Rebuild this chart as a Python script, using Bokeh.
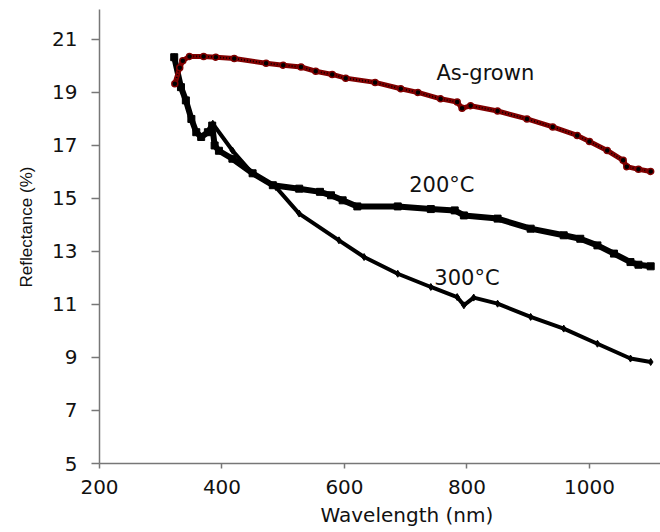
from bokeh.plotting import figure
from bokeh.models import Range1d, FixedTicker, Title, ColumnDataSource
from bokeh.embed import file_html
from bokeh.resources import INLINE
from bokeh.core.properties import value

# ---- data ----
asg_wl = [323, 331, 336, 347, 370, 390, 420, 472, 500, 529, 553, 580, 602, 650,
          692, 720, 757, 784, 792, 806, 850, 898, 940, 980, 1000, 1029, 1055,
          1061, 1080, 1100]
asg_r = [19.33, 19.93, 20.20, 20.36, 20.36, 20.33, 20.28, 20.10, 20.03, 19.96,
         19.80, 19.68, 19.54, 19.38, 19.14, 19.00, 18.76, 18.64, 18.40, 18.50,
         18.30, 18.00, 17.70, 17.38, 17.15, 16.81, 16.44, 16.20, 16.10, 16.02]

t200_wl = [322, 333, 341, 350, 358, 366, 377, 384, 388, 395, 417, 450, 483, 526,
           560, 578, 597, 621, 687, 741, 780, 795, 850, 904, 958, 985, 1013,
           1040, 1067, 1080, 1100]
t200_r = [20.33, 19.20, 18.70, 18.00, 17.50, 17.32, 17.50, 17.75, 17.00, 16.80,
          16.50, 15.95, 15.50, 15.37, 15.25, 15.12, 14.93, 14.70, 14.70, 14.60,
          14.55, 14.36, 14.24, 13.86, 13.61, 13.48, 13.23, 12.92, 12.60, 12.50,
          12.44]

t300_wl = [322, 333, 341, 350, 358, 366, 377, 385, 417, 450, 488, 526, 591, 632,
           687, 741, 784, 795, 811, 850, 904, 958, 1013, 1067, 1100]
t300_r = [20.33, 19.20, 18.70, 18.00, 17.50, 17.32, 17.50, 17.82, 16.81, 15.94,
          15.43, 14.43, 13.42, 12.79, 12.16, 11.66, 11.28, 10.97, 11.26, 11.03,
          10.53, 10.09, 9.52, 8.96, 8.83]

x_ticks = [200, 400, 600, 800, 1000]
y_ticks = [5, 7, 9, 11, 13, 15, 17, 19, 21]

series_labels = ["As-grown", "200°C", "300°C"]
label_x = [830, 759, 800]
label_y = [19.72, 15.49, 12.01]

x_title = "Wavelength (nm)"
y_title = "Reflectance (%)"

# ---- figure ----
p = figure(width=660, height=532,
           x_range=Range1d(200, 1116), y_range=Range1d(5, 22.13),
           output_backend="svg", toolbar_location=None,
           min_border_left=98, min_border_right=0,
           min_border_top=9, min_border_bottom=69)
p.outline_line_color = None
p.grid.visible = False
p.background_fill_color = "white"

axis_col = "#777777"
for ax in (p.xaxis[0], p.yaxis[0]):
    ax.axis_line_color = axis_col
    ax.axis_line_width = 1.5
    ax.major_tick_line_color = axis_col
    ax.major_tick_line_width = 1.5
    ax.major_tick_in = 0
    ax.minor_tick_line_color = None
    ax.major_label_text_font = "DejaVu Sans"
    ax.major_label_text_font_size = "20px"
    ax.major_label_text_color = "#111111"

p.xaxis.ticker = FixedTicker(ticks=x_ticks)
p.yaxis.ticker = FixedTicker(ticks=y_ticks)
p.xaxis.major_tick_out = 5
p.yaxis.major_tick_out = 8
p.xaxis.major_label_standoff = 11
p.yaxis.major_label_standoff = 14

xt = Title(text=x_title, align="left", offset=221,
           text_font="DejaVu Sans", text_font_size="20px",
           text_font_style="normal", text_color="#111111", standoff=9)
p.add_layout(xt, "below")
yt = Title(text=y_title, align="left", offset=176,
           text_font="Liberation Sans", text_font_size="17px",
           text_font_style="normal", text_color="#111111", standoff=28)
p.add_layout(yt, "left")

# ---- series ----
s300 = ColumnDataSource(dict(x=t300_wl, y=t300_r))
s200 = ColumnDataSource(dict(x=t200_wl, y=t200_r))
sasg = ColumnDataSource(dict(x=asg_wl, y=asg_r))

p.line("x", "y", source=s300, line_color="black", line_width=4)
p.scatter("x", "y", source=s300, marker="diamond", size=7, color="black")

p.line("x", "y", source=s200, line_color="black", line_width=6)
p.scatter("x", "y", source=s200, marker="square", size=7, color="black")

p.line("x", "y", source=sasg, line_color="#800000", line_width=5)
p.line("x", "y", source=sasg, line_color="black", line_width=1.6,
       line_dash="1 2")
p.scatter("x", "y", source=sasg, marker="circle", size=6,
          fill_color="black", line_color="#800000", line_width=1.5)

lsrc = ColumnDataSource(dict(x=label_x, y=label_y, t=series_labels))
p.text("x", "y", text="t", source=lsrc, text_align="center",
       text_baseline="middle", text_font=value("DejaVu Sans"),
       text_font_size="21px", text_color="#111111")

open("out.html", "w").write(file_html(p, INLINE))
